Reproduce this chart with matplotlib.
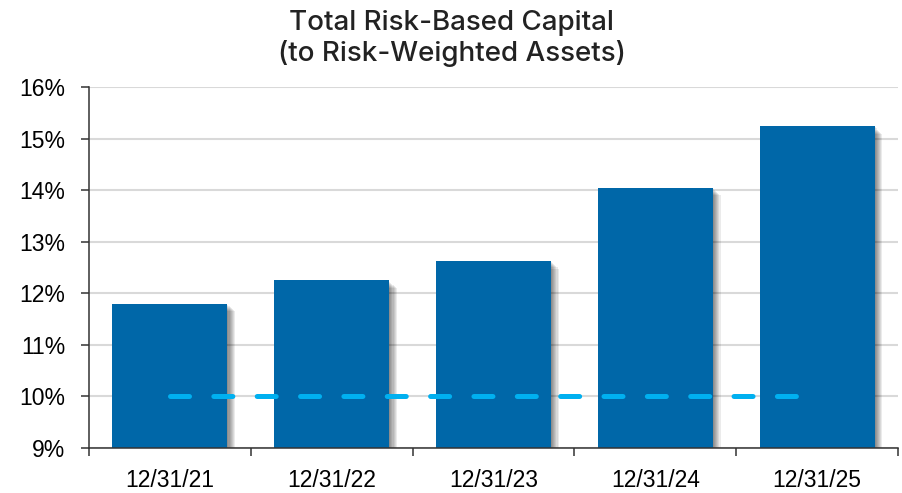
import matplotlib
matplotlib.use("Agg")
import matplotlib.pyplot as plt
import matplotlib.patheffects as pe
from matplotlib.ticker import FixedLocator, FuncFormatter

# data
dates = ["12/31/21", "12/31/22", "12/31/23", "12/31/24", "12/31/25"]
capital = [11.8, 12.25, 12.63, 14.05, 15.24]
minimum = [10.0, 10.0, 10.0, 10.0, 10.0]
y_ticks = [9, 10, 11, 12, 13, 14, 15, 16]

bar_color = "#0067A8"
dash_color = "#00B0F0"

plt.rcParams['font.family'] = ['Liberation Sans', 'DejaVu Sans']

fig = plt.figure(figsize=(9.03, 4.93), dpi=100)
ax = fig.add_axes([89 / 903, 1 - 448 / 493, (898 - 89) / 903, (448 - 87) / 493])

x = list(range(len(dates)))

# soft drop shadow made of a few stacked offset copies
shadow = [pe.SimplePatchShadow(offset=(k * 0.8, -k * 0.8), shadow_rgbFace="k", alpha=0.08)
          for k in range(1, 8)]
bars = ax.bar(x, [v - 9 for v in capital], bottom=9, width=0.71, color=bar_color, zorder=3)
for b in bars:
    b.set_path_effects(shadow + [pe.Normal()])

ax.plot([x[0], x[-1]], minimum[:1] + minimum[-1:], color=dash_color, lw=3.6,
        ls=(0, (3.8, 4.87)), dash_capstyle="round", zorder=4)

ax.set_ylim(9, 16)
ax.set_xlim(-0.5, len(dates) - 0.5)
ax.yaxis.set_major_locator(FixedLocator(y_ticks))
ax.yaxis.set_major_formatter(FuncFormatter(lambda v, p: f"{v:.0f}%"))
ax.grid(axis="y", color="#D9D9D9", lw=1.5, zorder=0)
ax.set_axisbelow(True)

# boundary ticks between categories, labels in the middle
ax.xaxis.set_major_locator(FixedLocator([i - 0.5 for i in range(len(dates) + 1)]))
ax.xaxis.set_major_formatter(FuncFormatter(lambda v, p: ""))
ax.xaxis.set_minor_locator(FixedLocator(x))
ax.set_xticklabels(dates, minor=True)
ax.tick_params(axis="x", which="minor", length=0, pad=15, labelsize=16.5)
ax.tick_params(axis="x", which="major", length=6, width=1.1, color="#333333")
ax.tick_params(axis="y", length=6, width=1.1, color="#333333", pad=11, labelsize=16.5)

for s in ["top", "right"]:
    ax.spines[s].set_visible(False)
for s in ["left", "bottom"]:
    ax.spines[s].set_color("#333333")
    ax.spines[s].set_linewidth(1.1)
    ax.spines[s].set_zorder(5)

fig.text(0.5, 1 - 10 / 493, "Total Risk-Based Capital\n(to Risk-Weighted Assets)",
         ha="center", va="top", fontsize=20, family=["Inter", "DejaVu Sans"],
         fontweight="medium", color="#222222", linespacing=1.2)

fig.savefig("out.png", dpi=100)
